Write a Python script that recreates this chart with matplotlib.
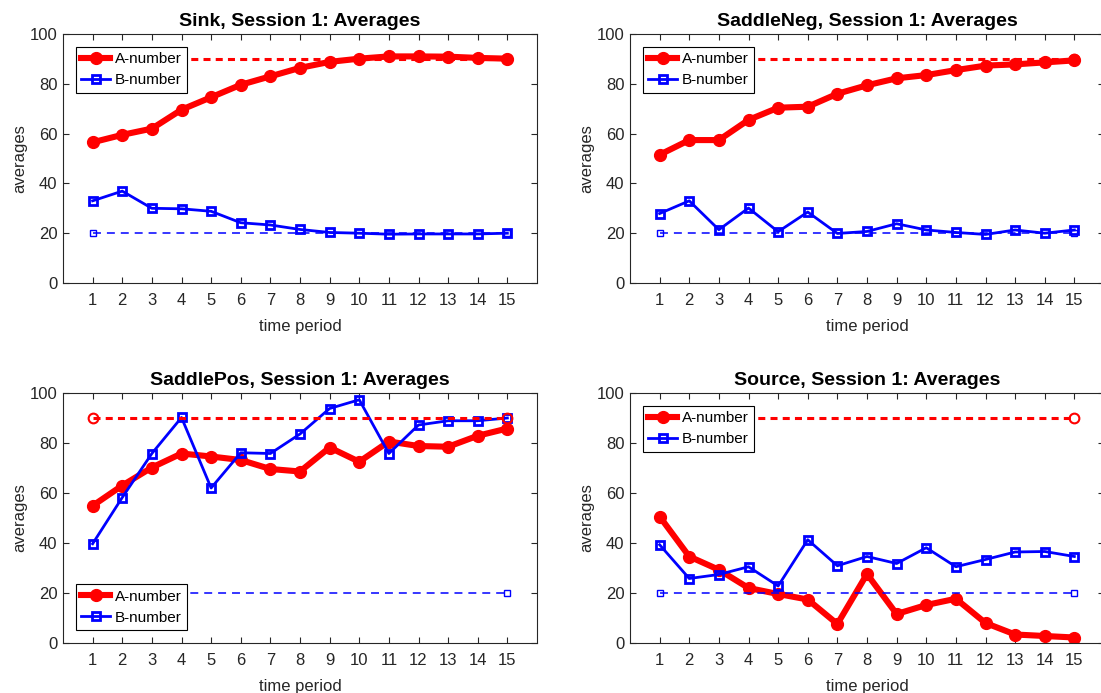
import matplotlib
matplotlib.use("Agg")
import matplotlib.pyplot as plt

plt.rcParams['font.family'] = ['Liberation Sans', 'DejaVu Sans']

periods = list(range(1, 16))
a_target = 90
b_target = 20

titles = ['Sink', 'SaddleNeg', 'SaddlePos', 'Source']

a_sink = [56.5, 59.5, 62.0, 69.6, 74.6, 79.6, 83.0, 86.4, 88.8, 90.1, 91.0, 91.0, 90.9, 90.4, 90.1]
b_sink = [33.0, 36.9, 30.0, 29.8, 28.8, 24.2, 23.3, 21.5, 20.3, 20.0, 19.6, 19.7, 19.7, 19.7, 20.0]

a_sneg = [51.5, 57.4, 57.4, 65.5, 70.4, 70.8, 76.0, 79.4, 82.2, 83.5, 85.5, 87.3, 87.8, 88.6, 89.4]
b_sneg = [27.9, 33.0, 21.4, 30.1, 20.6, 28.5, 19.9, 20.7, 23.8, 21.3, 20.3, 19.5, 21.3, 20.0, 21.3]

a_spos = [54.9, 63.0, 70.2, 75.8, 74.6, 73.2, 69.6, 68.6, 78.2, 72.5, 80.6, 78.8, 78.5, 82.9, 85.8]
b_spos = [39.7, 58.2, 75.8, 90.2, 62.0, 76.1, 75.8, 83.6, 93.8, 97.3, 75.8, 87.2, 88.9, 88.9, 90.0]

a_src = [50.6, 34.6, 29.3, 22.0, 19.6, 17.4, 7.6, 27.6, 11.6, 15.2, 17.7, 8.0, 3.4, 2.8, 2.2]
b_src = [39.3, 25.8, 27.4, 30.5, 22.8, 41.3, 30.9, 34.6, 31.8, 38.1, 30.5, 33.4, 36.4, 36.6, 34.6]

a_series = [a_sink, a_sneg, a_spos, a_src]
b_series = [b_sink, b_sneg, b_spos, b_src]
legend_loc = ['upper left', 'upper left', 'lower left', 'upper left']

fig = plt.figure(figsize=(11.01, 6.93), dpi=100)
W, H = 1101, 693
# axes boxes in pixels: left, top, width, height
boxes = [(63, 34, 474, 249), (630, 34, 474, 249),
         (63, 393, 474, 250), (630, 393, 474, 250)]
dark = '#262626'

for i in range(4):
    l, t, w, h = boxes[i]
    ax = fig.add_axes([l / W, 1 - (t + h) / H, w / W, h / H])

    # target levels, marked at the first and last period
    ax.plot([periods[0], periods[-1]], [a_target, a_target], '--o', color='red',
            lw=2.2, ms=7, mfc='none', mew=1.5, dashes=(2.3, 1.7), zorder=3)
    ax.plot([periods[0], periods[-1]], [b_target, b_target], '--s', color='blue',
            lw=1.1, ms=5, mfc='none', mew=1.0, dashes=(5.2, 3.9), zorder=3)

    la, = ax.plot(periods, a_series[i], '-o', color='red', lw=4.4, ms=8.5,
                  label='A-number', zorder=2)
    lb, = ax.plot(periods, b_series[i], '-s', color='blue', lw=2.0, ms=5.5,
                  mfc='none', mew=2, label='B-number', zorder=2)

    ax.set_xlim(0, 16)
    ax.set_ylim(0, 100)
    ax.set_xticks(periods)
    ax.set_yticks(range(0, 101, 20))
    ax.tick_params(direction='in', top=True, right=True, labelsize=12,
                   length=4, width=0.8, colors=dark, labelcolor=dark)
    ax.tick_params(axis='x', pad=7)
    ax.tick_params(axis='y', pad=4)
    for s in ax.spines.values():
        s.set_color(dark)
        s.set_linewidth(0.8)
    ax.set_xlabel('time period', fontsize=12, color=dark, labelpad=8)
    ax.set_ylabel('averages', fontsize=12, color=dark, labelpad=2)
    ax.set_title(titles[i] + ', Session 1: Averages', fontsize=14,
                 fontweight='bold', pad=6)

    leg = ax.legend(handles=[la, lb], loc=legend_loc[i], fontsize=11,
                    fancybox=False, framealpha=1, edgecolor='black',
                    borderpad=0.35, handlelength=1.9, handletextpad=0.3,
                    labelspacing=0.45, borderaxespad=0.85)
    leg.get_frame().set_linewidth(0.8)
    leg.set_zorder(5)

fig.savefig('out.png', dpi=100)
